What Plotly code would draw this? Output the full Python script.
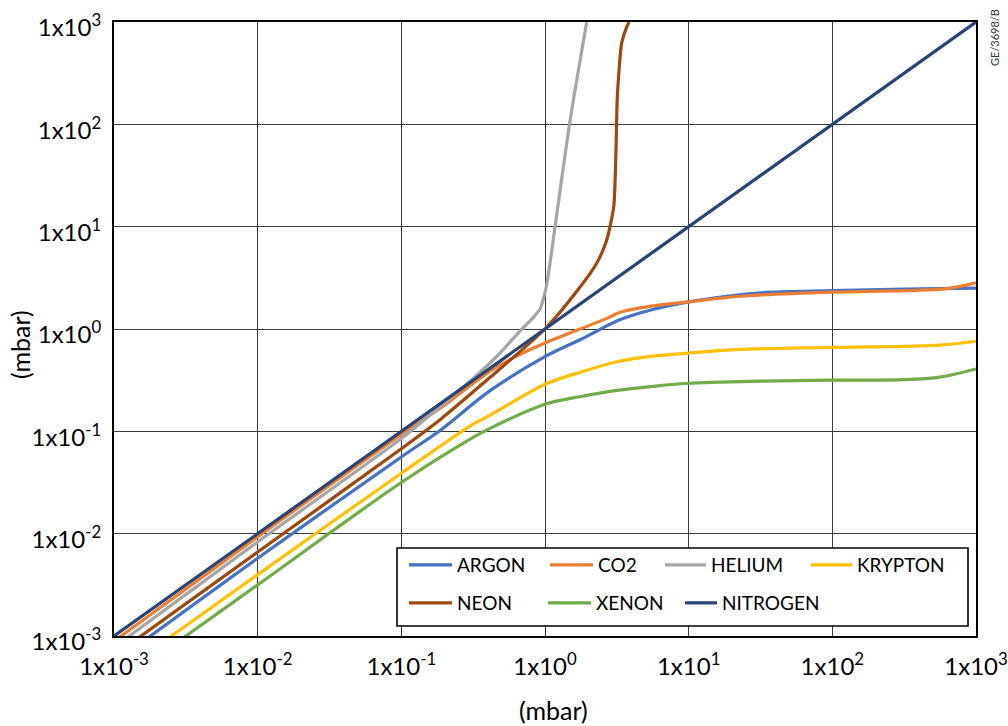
import plotly.graph_objects as go

FONT = "Lato"

# ---- data (pressure readings, mbar) ----
tick_vals = [0.001, 0.01, 0.1, 1, 10, 100, 1000]
tick_text = ["1x10<sup>-3</sup>", "1x10<sup>-2</sup>", "1x10<sup>-1</sup>", "1x10<sup>0</sup>",
             "1x10<sup>1</sup>", "1x10<sup>2</sup>", "1x10<sup>3</sup>"]

argon_x = [0.001, 0.01, 0.1, 0.186, 0.417, 1.0, 1.78, 3.31, 5.62, 10.0, 31.6, 100.0, 316.0, 1000.0]
argon_y = [0.00055, 0.00575, 0.0562, 0.102, 0.251, 0.537, 0.794, 1.23, 1.55, 1.84, 2.26, 2.37, 2.45, 2.51]

co2_x = [0.001, 0.01, 0.1, 0.186, 0.417, 0.603, 1.0, 2.69, 3.31, 5.62, 10.0, 22.9, 100.0, 316.0, 631.0, 1000.0]
co2_y = [0.00089, 0.00933, 0.0933, 0.168, 0.389, 0.525, 0.73, 1.27, 1.45, 1.68, 1.84, 2.09, 2.29, 2.37, 2.48, 2.82]

helium_x = [0.001, 0.01, 0.1, 0.186, 0.355, 0.486, 0.67, 0.83, 0.923, 0.968, 1.033, 1.175, 1.48, 1.95]
helium_y = [0.000776, 0.00832, 0.0851, 0.174, 0.38, 0.582, 0.955, 1.30, 1.57, 1.91, 2.82, 10.0, 100.0, 1000.0]

krypton_x = [0.001, 0.01, 0.1, 0.316, 0.417, 1.0, 1.78, 3.16, 5.62, 10.0, 22.9, 100.0, 562.0, 1000.0]
krypton_y = [0.000398, 0.00398, 0.0389, 0.1175, 0.1445, 0.288, 0.380, 0.479, 0.543, 0.582, 0.631, 0.661, 0.697, 0.759]

neon_x = [0.001, 0.01, 0.1, 0.186, 0.417, 1.0, 1.66, 2.29, 2.69, 3.01, 3.12, 3.18, 3.29, 3.41, 3.70, 3.85]
neon_y = [0.000646, 0.00661, 0.0676, 0.130, 0.339, 1.0, 2.32, 4.39, 7.41, 15.7, 56.2, 174.0, 363.0, 617.0, 891.0, 1000.0]

xenon_x = [0.001, 0.01, 0.1, 0.316, 0.414, 1.0, 1.78, 3.16, 5.62, 10.0, 31.6, 100.0, 316.0, 562.0, 1000.0]
xenon_y = [0.000316, 0.00316, 0.0316, 0.0871, 0.107, 0.184, 0.219, 0.251, 0.275, 0.295, 0.309, 0.316, 0.320, 0.339, 0.407]

nitrogen_x = [0.001, 1000.0]
nitrogen_y = [0.001, 1000.0]

names = ["ARGON", "CO2", "HELIUM", "KRYPTON", "NEON", "XENON", "NITROGEN"]
colors = ["#4472C4", "#ED7D31", "#A5A5A5", "#FFC000", "#9E480E", "#70AD47", "#264478"]
xs_all = [argon_x, co2_x, helium_x, krypton_x, neon_x, xenon_x, nitrogen_x]
ys_all = [argon_y, co2_y, helium_y, krypton_y, neon_y, xenon_y, nitrogen_y]
smooth = [0.9, 0.9, 0.6, 0.9, 0.6, 0.9, 0.0]

# plot area in pixels
L, R, T, B = 114, 976, 22, 636
PW, PH = R - L, B - T


def px(xp):
    return (xp - L) / PW


def py(yp):
    return (B - yp) / PH


# legend entry positions (pixel left edge, pixel top, symbol area width)
leg_pos = [(404, 546, 43), (545, 546, 43), (660, 546, 41), (806, 546, 41),
           (404, 584, 43), (543, 584, 43), (680, 584, 32)]

fig = go.Figure()
legends = {}
for i, (name, xs, ys, col) in enumerate(zip(names, xs_all, ys_all, colors)):
    lname = "legend" if i == 0 else f"legend{i + 1}"
    fig.add_trace(go.Scatter(x=xs, y=ys, name=name, mode="lines",
                             line=dict(color=col, width=3.2, shape="spline", smoothing=smooth[i]),
                             legend=lname))
    lx, ly, iw = leg_pos[i]
    legends[lname] = dict(orientation="h", xanchor="left", yanchor="top",
                          x=px(lx), y=py(ly),
                          font=dict(family=FONT, size=19, color="black"),
                          bgcolor="rgba(0,0,0,0)", borderwidth=0, itemwidth=iw)

axis_common = dict(type="log", range=[-3, 3], tickvals=tick_vals, ticktext=tick_text,
                   showgrid=True, gridcolor="#3a3a3a", gridwidth=1.2,
                   showline=True, linecolor="black", linewidth=2, mirror=True,
                   ticks="", zeroline=False, automargin=False,
                   ticklabeloverflow="allow",
                   tickfont=dict(family=FONT, size=24, color="black"))

fig.update_xaxes(**axis_common, ticklabelstandoff=8)
fig.update_yaxes(**axis_common, ticklabelstandoff=6, ticklabelshift=6)

# legend box
fig.add_shape(type="rect", xref="paper", yref="paper",
              x0=px(397), x1=px(968), y0=py(626), y1=py(548),
              line=dict(color="black", width=1.6), fillcolor="white", layer="above")

fig.update_layout(
    width=1008, height=726,
    margin=dict(l=L, r=1008 - R, t=T, b=726 - B, autoexpand=False),
    plot_bgcolor="white", paper_bgcolor="white",
    font=dict(family=FONT, color="black"),
    showlegend=True,
    annotations=[
        dict(text="(mbar)", xref="paper", yref="paper", x=px(553), y=py(710),
             showarrow=False, font=dict(family=FONT, size=25, color="black"),
             xanchor="center", yanchor="middle"),
        dict(text="(mbar)", xref="paper", yref="paper", x=px(20), y=py(345),
             showarrow=False, textangle=-90, font=dict(family=FONT, size=25, color="black"),
             xanchor="center", yanchor="middle"),
        dict(text="GE/3698/B", xref="paper", yref="paper", x=px(994), y=py(38),
             showarrow=False, textangle=-90, font=dict(family=FONT, size=11, color="#333333"),
             xanchor="center", yanchor="middle"),
    ],
    **legends,
)

fig.write_html("out.html",
               config={"displayModeBar": False},
               post_script="document.body.style.margin='0';document.body.style.overflow='hidden';")
